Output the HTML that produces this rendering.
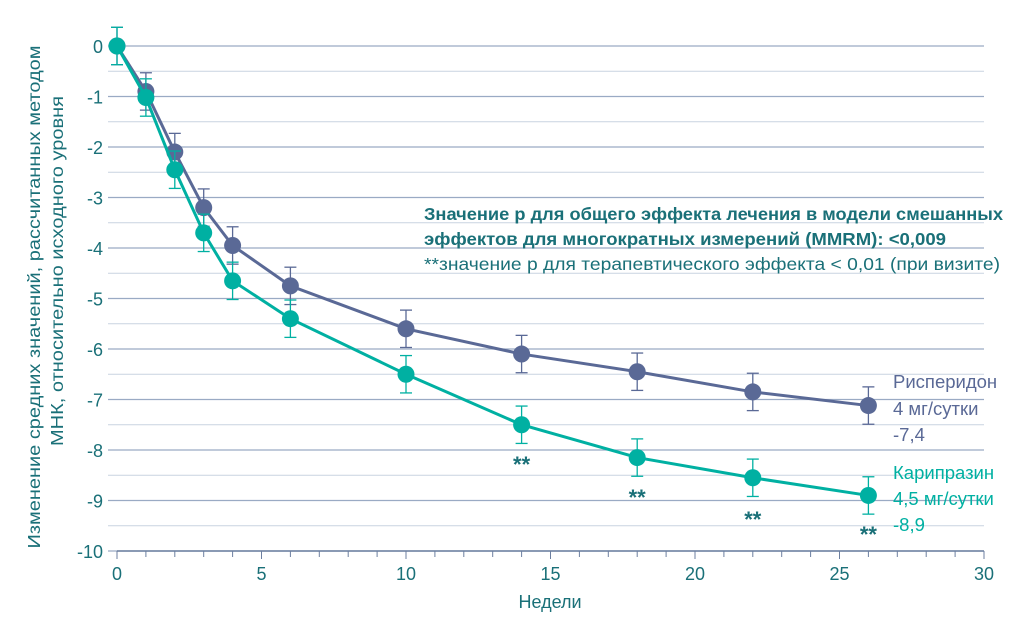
<!DOCTYPE html>
<html><head><meta charset="utf-8"><style>
body{margin:0;background:#fff;width:1024px;height:639px;overflow:hidden}
svg{display:block;font-family:"Liberation Sans","DejaVu Sans",sans-serif}
</style></head><body>
<svg id="s" width="1024" height="639" viewBox="0 0 1024 639"></svg>
<script>
const s=document.getElementById('s');let h='';
const X=w=>117+w*28.9, Y=v=>46-v*50.5;
for(let i=0;i<=20;i++){const v=-i/2,y=Y(v);
 h+=`<line x1="108" x2="984" y1="${y}" y2="${y}" stroke="${i%2?'#c9d3e0':'#9aaac4'}" stroke-width="${i%2?1:1.3}"/>`;}
for(let i=0;i<=10;i++){h+=`<text x="103" y="${Y(-i)+7}" text-anchor="end" font-size="18" fill="#1a7078">${i?'-'+i:'0'}</text>`;}
h+=`<line x1="117" x2="984" y1="551" y2="551" stroke="#6c7fa0" stroke-width="1.5"/>`;
for(let w=0;w<=30;w++){h+=`<line x1="${X(w)}" x2="${X(w)}" y1="551" y2="${w%5?557:559}" stroke="#6c7fa0"/>`;}
for(let w=0;w<=30;w+=5)h+=`<text x="${X(w)}" y="580" text-anchor="middle" font-size="18" fill="#1a7078">${w}</text>`;
h+=`<text x="550" y="608" text-anchor="middle" font-size="18" fill="#1a7078">Недели</text>`;
h+=`<text transform="translate(40,297) rotate(-90)" text-anchor="middle" font-size="17.5" fill="#1a7078" textLength="503" lengthAdjust="spacingAndGlyphs">Изменение средних значений, рассчитанных методом</text>`;
h+=`<text transform="translate(63,271) rotate(-90)" text-anchor="middle" font-size="17.5" fill="#1a7078" textLength="350" lengthAdjust="spacingAndGlyphs">МНК, относительно исходного уровня</text>`;
const wk=[0,1,2,3,4,6,10,14,18,22,26];
const r=[0,-0.9,-2.1,-3.2,-3.95,-4.75,-5.6,-6.1,-6.45,-6.85,-7.12];
const c=[0,-1.02,-2.45,-3.7,-4.65,-5.4,-6.5,-7.5,-8.15,-8.55,-8.9];
function ser(d,col,eb){let p=wk.map((w,i)=>X(w)+','+Y(d[i])).join(' ');
 let o='';wk.forEach((w,i)=>{const x=X(w),y1=Y(d[i]-eb),y2=Y(d[i]+eb);
 o+=`<line x1="${x}" x2="${x}" y1="${y1}" y2="${y2}" stroke="${col}" stroke-width="1.3"/><line x1="${x-6}" x2="${x+6}" y1="${y1}" y2="${y1}" stroke="${col}" stroke-width="1.3"/><line x1="${x-6}" x2="${x+6}" y1="${y2}" y2="${y2}" stroke="${col}" stroke-width="1.3"/>`;});
 o+=`<polyline points="${p}" fill="none" stroke="${col}" stroke-width="3"/>`;
 wk.forEach((w,i)=>o+=`<circle cx="${X(w)}" cy="${Y(d[i])}" r="8.5" fill="${col}"/>`);return o;}
h+=ser(r,'#5a6996',0.37)+ser(c,'#00b0a2',0.37);
[[14,472],[18,505],[22,527],[26,542]].forEach(([w,y])=>h+=`<text x="${X(w)}" y="${y}" text-anchor="middle" font-size="22" font-weight="bold" fill="#1a7078">**</text>`);
h+=`<text x="424" y="220" font-size="17.5" font-weight="bold" fill="#1a7078" textLength="579" lengthAdjust="spacingAndGlyphs">Значение р для общего эффекта лечения в модели смешанных</text>`;
h+=`<text x="424" y="245" font-size="17.5" font-weight="bold" fill="#1a7078" textLength="522" lengthAdjust="spacingAndGlyphs">эффектов для многократных измерений (MMRM): &lt;0,009</text>`;
h+=`<text x="424" y="270" font-size="17.5" fill="#1a7078" textLength="576" lengthAdjust="spacingAndGlyphs">**значение р для терапевтического эффекта &lt; 0,01 (при визите)</text>`;
h+=`<text font-size="18.5" fill="#5a6996"><tspan x="893" y="388">Рисперидон</tspan><tspan x="893" y="415">4 мг/сутки</tspan><tspan x="893" y="441">-7,4</tspan></text>`;
h+=`<text font-size="18.5" fill="#00b0a2"><tspan x="893" y="479">Карипразин</tspan><tspan x="893" y="505">4,5 мг/сутки</tspan><tspan x="893" y="531">-8,9</tspan></text>`;
s.innerHTML=h;
</script>
</body></html>
